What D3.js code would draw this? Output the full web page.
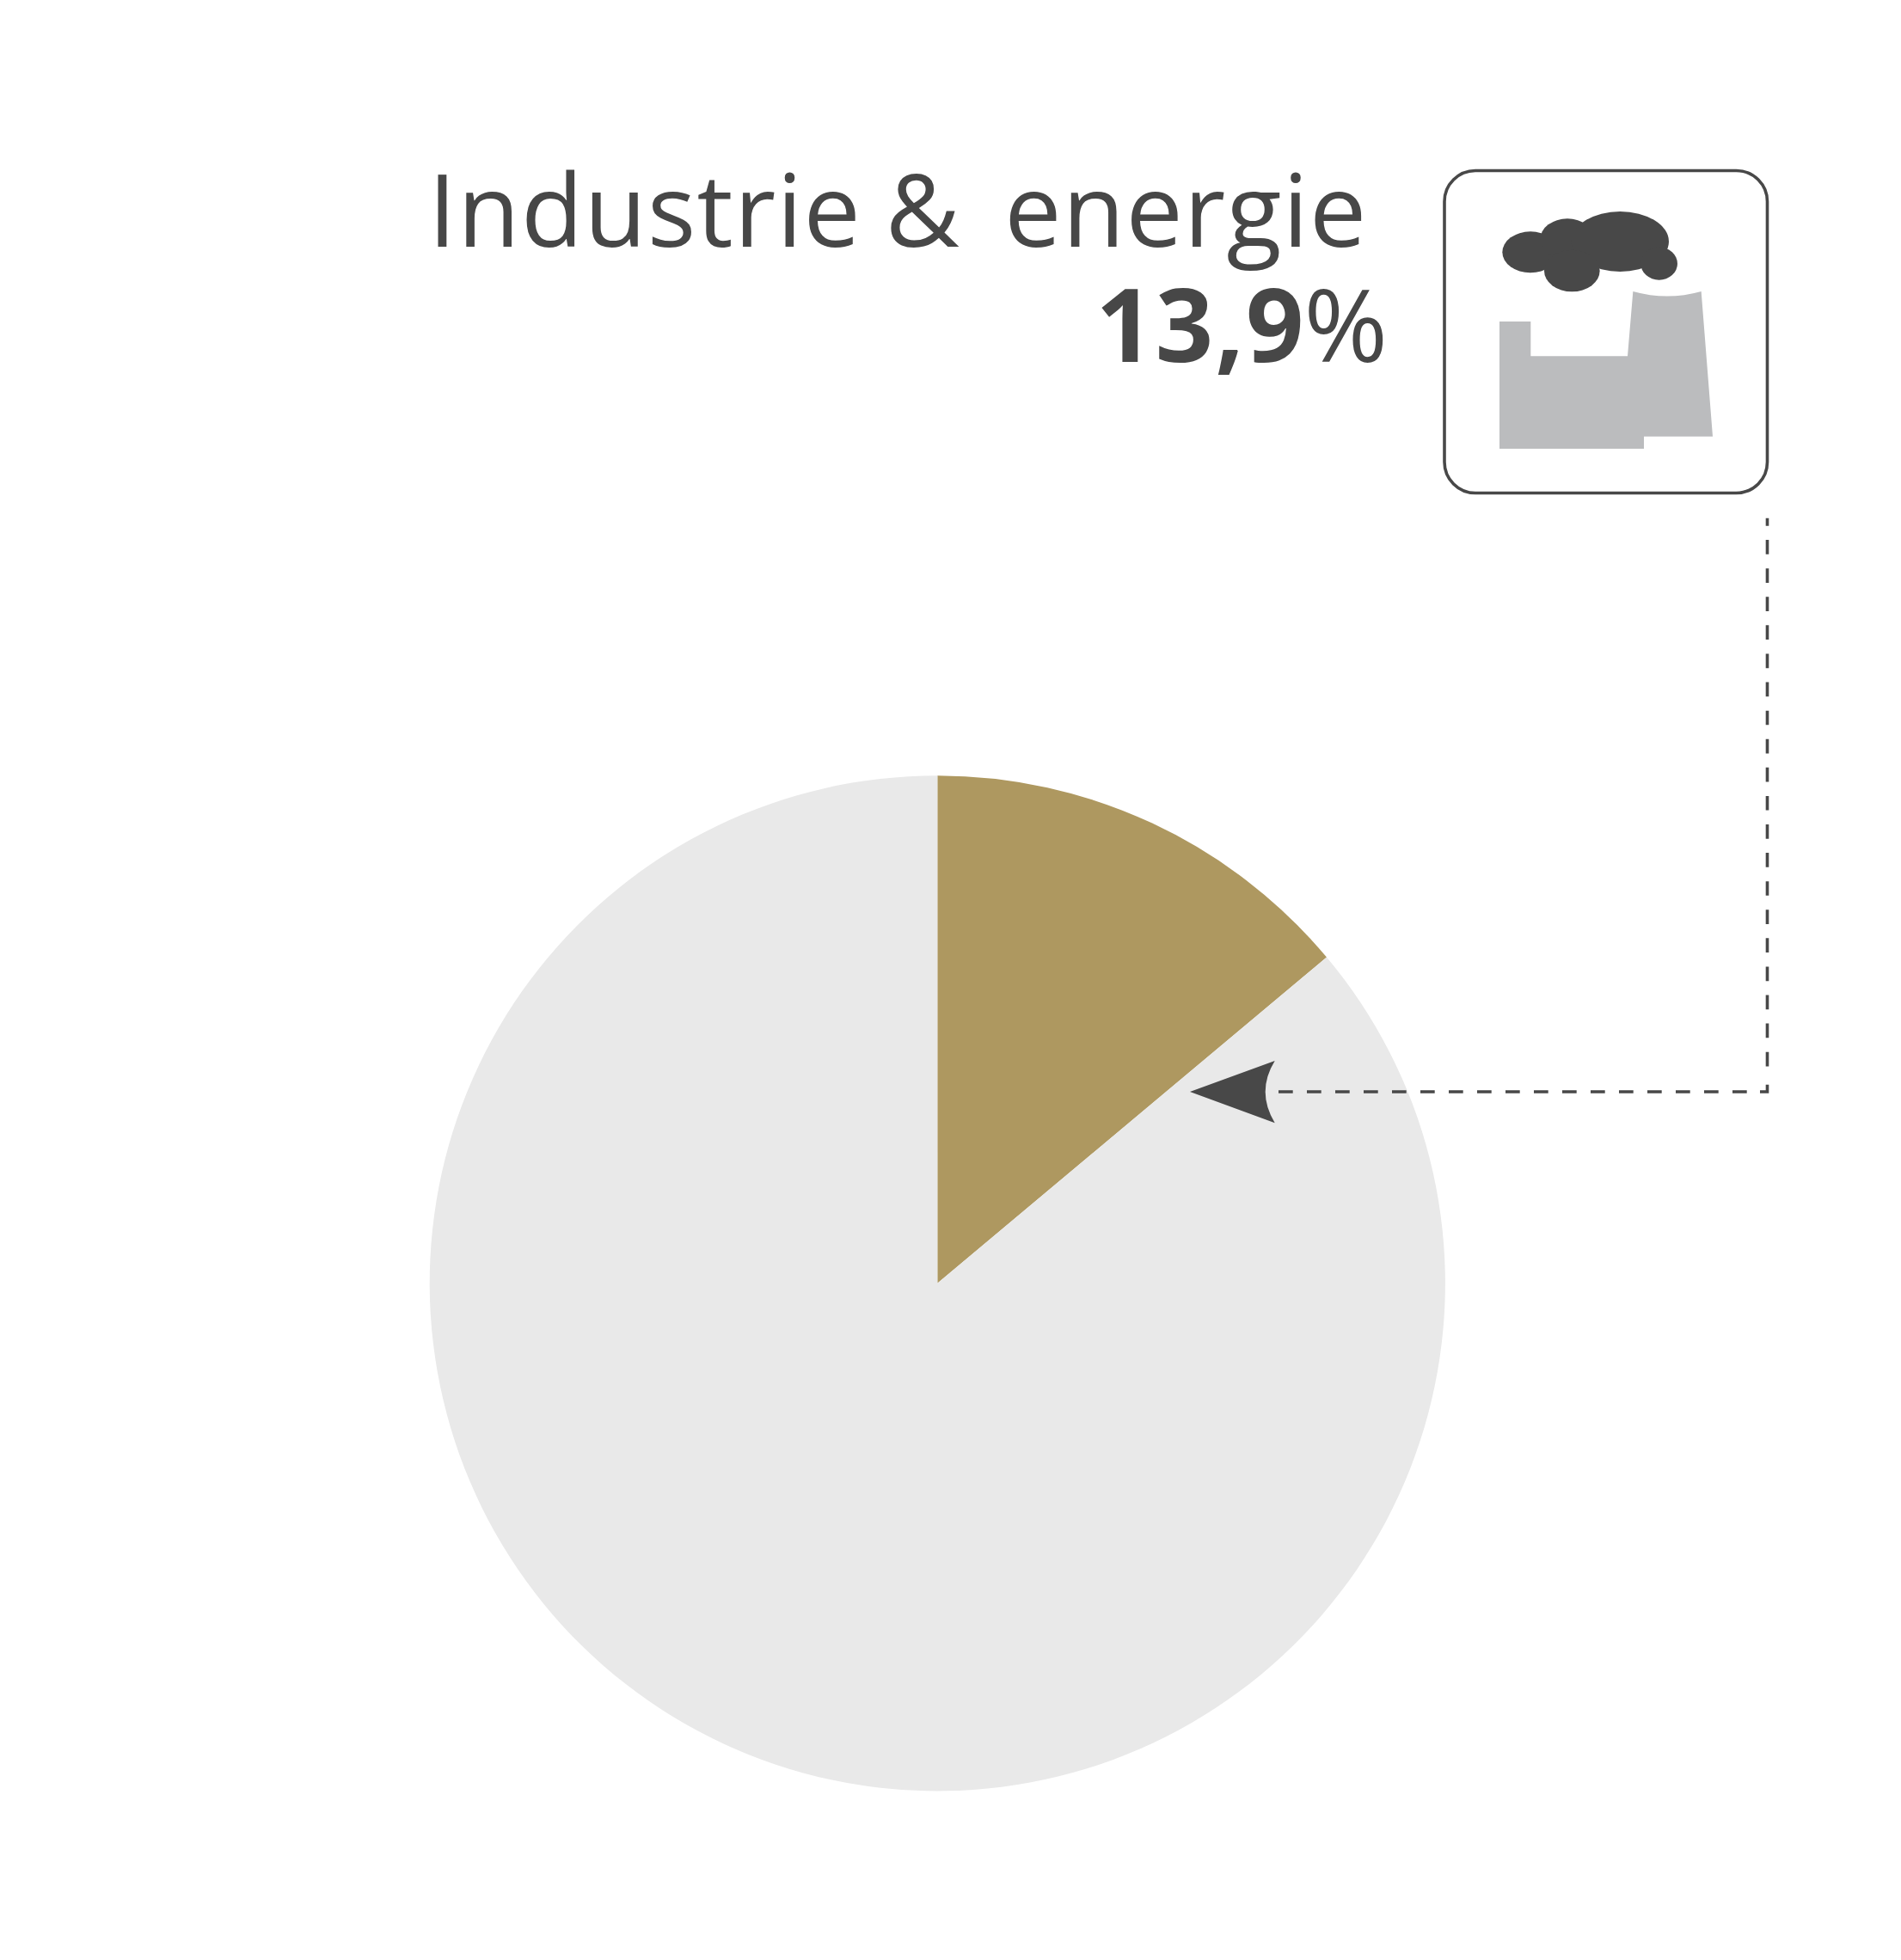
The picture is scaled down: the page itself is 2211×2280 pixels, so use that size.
<!DOCTYPE html>
<html><head><meta charset="utf-8">
<script src="https://cdn.jsdelivr.net/npm/d3@7/dist/d3.min.js"></script>
<style>html,body{margin:0;padding:0;background:#fff}svg{display:block}text{font-family:"Open Sans",sans-serif;fill:#474747}</style>
</head><body>
<script>
const categories = ["Industrie & energie", "Overig"];
const seriesValues = [13.9, 86.1];
const sliceColors = ["#AE9860", "#E9E9E9"];
const titleWords = ["Industrie ", "&", "\u00A0\u00A0energie"];
const valueLabel = "13,9";
const unitLabel = "%";

const W = 2211, H = 2280;
const svg = d3.select("body").append("svg").attr("width", W).attr("height", H).attr("viewBox", `0 0 ${W} ${H}`);

// pie
const cx = 1090.3, cy = 1492.8, R = 590.6;
const color = d3.scaleOrdinal().domain(categories).range(sliceColors);
const pie = d3.pie().sort(null).value(d => d.v);
const arc = d3.arc().innerRadius(0).outerRadius(R);
svg.append("g").attr("transform", `translate(${cx},${cy})`)
  .selectAll("path").data(pie(categories.map((c, i) => ({c, v: seriesValues[i]})))).join("path")
  .attr("d", arc).attr("fill", d => color(d.data.c));

// title
const t1 = svg.append("text").attr("x", 498).attr("y", 287).attr("font-size", 118).attr("font-weight", 400)
  .attr("letter-spacing", 1.3).attr("xml:space", "preserve").style("white-space", "pre");
const wordShift = [0, -4, -13];
titleWords.forEach((w, i) => t1.append("tspan").attr("dx", wordShift[i]).text(w));
const t2 = svg.append("text").attr("x", 1614).attr("y", 421).attr("text-anchor", "end").attr("font-size", 118);
t2.append("tspan").attr("font-weight", 700).attr("letter-spacing", 2).text(valueLabel);
t2.append("tspan").attr("font-weight", 400).attr("dx", -2).text(unitLabel);

// icon box
svg.append("rect").attr("x", 1680).attr("y", 198.5).attr("width", 375.5).attr("height", 375)
  .attr("rx", 36).attr("fill", "#fff").attr("stroke", "#484848").attr("stroke-width", 3.6);

// icon: drawn in 3x zoom space of the box region
const icon = svg.append("g").attr("transform", "translate(1640,170) scale(0.33333)");
icon.append("path").attr("fill", "#BBBCBE")
  .attr("d", "M312,612H421V733H759L778,507Q897,540 1016,507L1056,1013H816V1056H312Z");
const clouds = [[420,370,98,72],[549,325,95,72],[733,333,170,105],[565,435,97,73],[869,410,64,57]];
icon.selectAll("ellipse").data(clouds).join("ellipse")
  .attr("cx", d => d[0]).attr("cy", d => d[1]).attr("rx", d => d[2]).attr("ry", d => d[3]).attr("fill", "#484848");

// leader
const lead = svg.append("g").attr("fill", "none").attr("stroke", "#484848").attr("stroke-width", 3.6);
lead.append("path").attr("stroke-dasharray", "16.7 16.3").attr("d", "M1487,1270H2032");
lead.append("path").attr("stroke-dasharray", "16.7 16.39").attr("stroke-dashoffset", 7.7).attr("d", "M2055.5,602.7V1240.5");
lead.append("path").attr("d", "M2047,1270H2055.5V1261.7");
svg.append("path").attr("fill", "#484848").attr("d", "M1384,1270L1482.7,1234Q1460.7,1270 1482.7,1306.3Z");
</script>
</body></html>
